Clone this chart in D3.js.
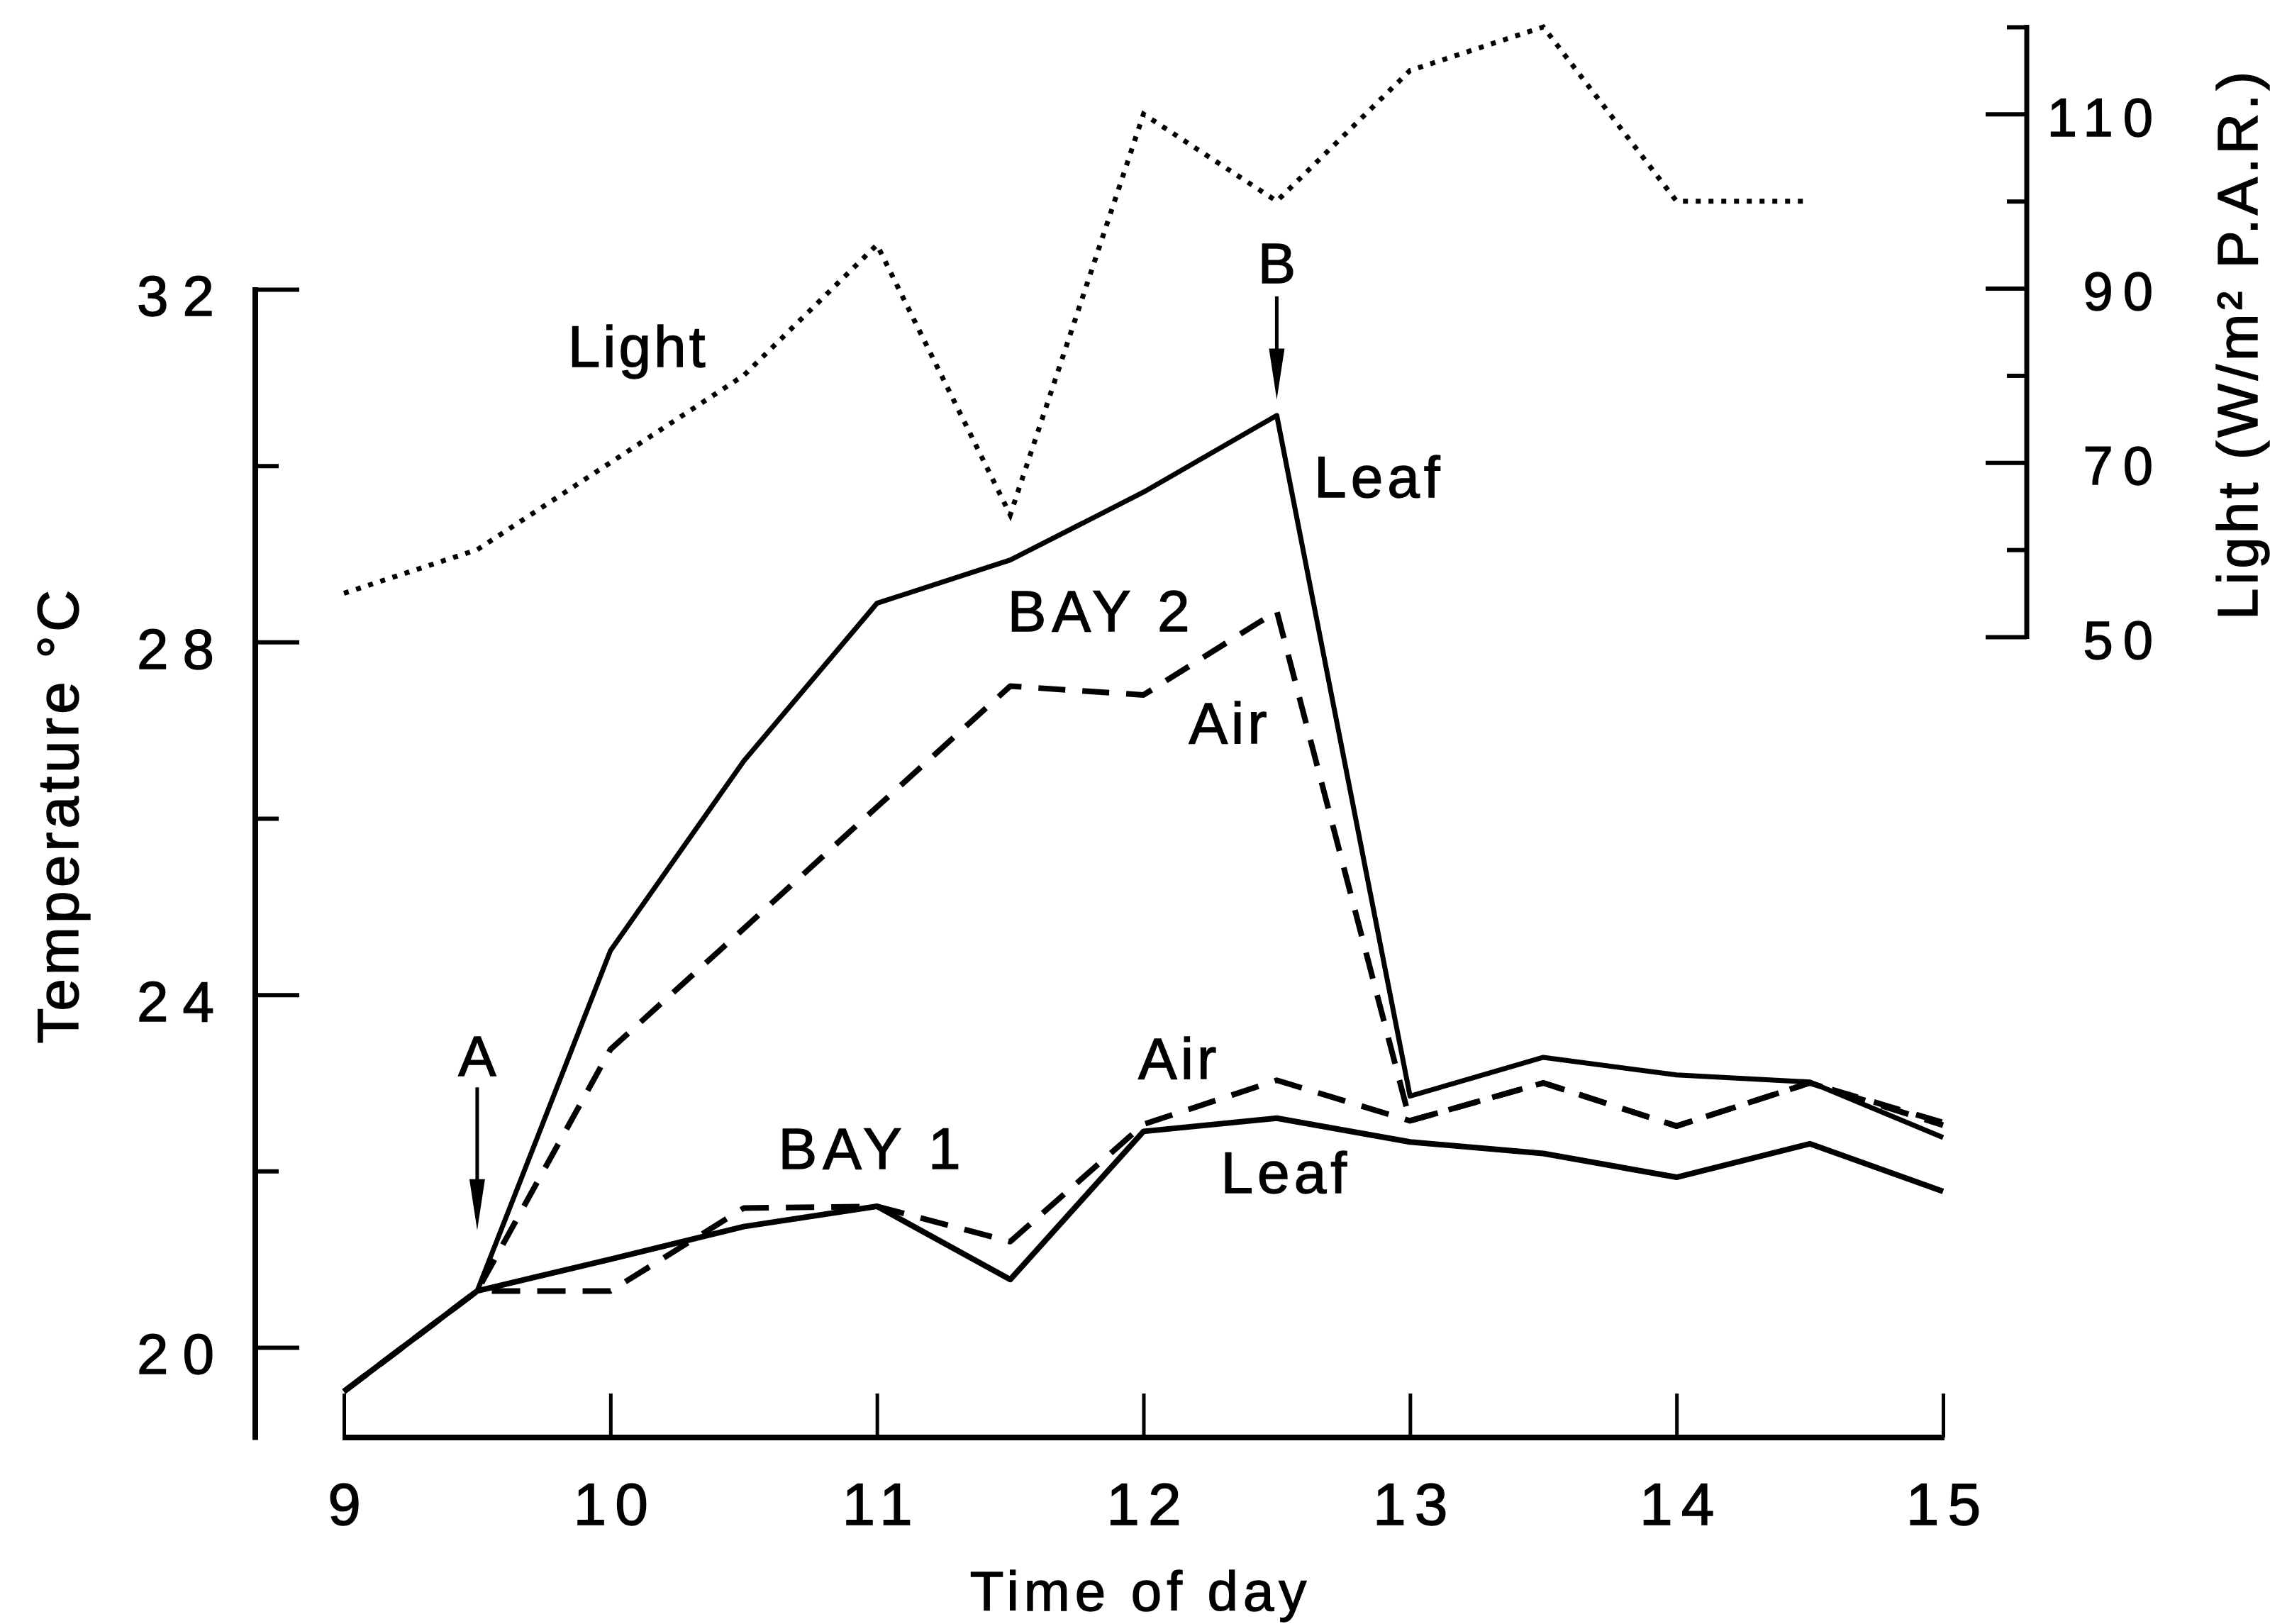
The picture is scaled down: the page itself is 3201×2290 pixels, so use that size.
<!DOCTYPE html>
<html>
<head>
<meta charset="utf-8">
<script src="https://cdn.jsdelivr.net/npm/d3@7"></script>
<style>
  html, body { margin: 0; padding: 0; background: #fff; }
  svg { display: block; }
  text { font-family: "Liberation Sans", Arimo, Helvetica, Arial, sans-serif; fill: #000; stroke: #000; stroke-width: 1.4px; }
</style>
</head>
<body>
<svg id="chart"></svg>
<script>
// ---------------- data ----------------
const hours     = [9, 9.5, 10, 10.5, 11, 11.5, 12, 12.5, 13, 13.5, 14, 14.5, 15];
const bay2Leaf  = [19.5, 20.64, 24.5, 26.65, 28.44, 28.93, 29.7, 30.57, 22.85, 23.29, 23.09, 23.01, 22.38];
const bay2Air   = [19.5, 20.64, 23.38, 24.75, 26.13, 27.5, 27.4, 28.35, 22.57, 23.0, 22.51, 23.0, 22.55];
const bay1Leaf  = [19.5, 20.64, 21.0, 21.37, 21.6, 20.77, 22.45, 22.6, 22.33, 22.2, 21.93, 22.31, 21.77];
const bay1Air   = [19.5, 20.64, 20.64, 21.58, 21.6, 21.2, 22.53, 23.03, 22.57, 23.0, 22.51, 23.0, 22.52];
const lightHours = [9, 9.5, 10, 10.5, 11, 11.5, 12, 12.5, 13, 13.5, 14, 14.5];
const light      = [55, 60, 70, 80, 95, 64, 110, 100, 115, 120, 100, 100];

const xTicks        = [9, 10, 11, 12, 13, 14, 15];
const tempMajor     = [20, 24, 28, 32];
const tempMinor     = [22, 26, 30];
const lightMajor    = [50, 70, 90, 110];
const lightMinor    = [60, 80, 100, 120];

const xTitle = "Time of day";
const yTitle = "Temperature °C";
const y2Title = "Light (W/m² P.A.R.)";

// annotations in data units: hour, temperature (baseline), text
const labels = [
  {h: 9.84,  t: 31.12, text: "Light", ls: 4},
  {h: 12.64, t: 29.64, text: "Leaf",  ls: 6},
  {h: 11.49, t: 28.12, text: "BAY 2", ls: 8},
  {h: 12.17, t: 26.85, text: "Air",   ls: 5},
  {h: 10.63, t: 22.03, text: "BAY 1", ls: 8},
  {h: 11.98, t: 23.05, text: "Air",   ls: 5},
  {h: 12.29, t: 21.75, text: "Leaf",  ls: 6}
];
const arrows = [
  {h: 9.5,  label: "A", labelT: 23.08, from: 22.95, to: 21.33},
  {h: 12.5, label: "B", labelT: 32.07, from: 31.92, to: 30.75}
];

// ---------------- layout ----------------
const W = 3201, H = 2290;
const FONT = "Liberation Sans, Arimo, Helvetica, Arial, sans-serif";
const svg = d3.select("#chart").attr("width", W).attr("height", H);

const x  = d3.scaleLinear().domain([9, 15]).range([485, 2740]);
const yT = d3.scaleLinear().domain([20, 32]).range([1900, 408]);
const yL = d3.scaleLinear().domain([50, 120]).range([898, 38]);

const leftAxisX = 360;
const bottomAxisY = 2027;
const rightAxisX = 2858;

// ---------------- left axis ----------------
const gL = svg.append("g").attr("transform", `translate(${leftAxisX},0)`);
gL.call(d3.axisLeft(yT).tickValues(tempMajor).tickSizeInner(-62).tickSizeOuter(0).tickPadding(58));
gL.attr("font-size", 80).attr("font-family", FONT);
gL.select(".domain").remove();
gL.selectAll(".tick line").attr("stroke", "#000").attr("stroke-width", 6);
gL.selectAll(".tick text").attr("dy", "0.46em").attr("letter-spacing", 20).attr("dx", 20);

const gL2 = svg.append("g").attr("transform", `translate(${leftAxisX},0)`);
gL2.call(d3.axisLeft(yT).tickValues(tempMinor).tickSizeInner(-33).tickSizeOuter(0).tickFormat(() => ""));
gL2.select(".domain").remove();
gL2.selectAll(".tick line").attr("stroke", "#000").attr("stroke-width", 6);

svg.append("path")
  .attr("d", d3.line()([[leftAxisX, yT(32) - 3], [leftAxisX, yT(18.95)]]))
  .attr("stroke", "#000").attr("stroke-width", 8).attr("fill", "none");

svg.append("text")
  .attr("transform", `translate(110, ${(yT(32) + yT(18.95)) / 2 - 70}) rotate(-90)`)
  .attr("text-anchor", "middle")
  .attr("font-size", 82)
  .attr("letter-spacing", 5)
  .text(yTitle);

// ---------------- bottom axis ----------------
const gB = svg.append("g").attr("transform", `translate(0,${bottomAxisY})`);
gB.call(d3.axisBottom(x).tickValues(xTicks).tickSizeInner(-62).tickSizeOuter(0).tickPadding(63).tickFormat(d3.format("d")));
gB.attr("font-size", 84).attr("font-family", FONT);
gB.select(".domain").remove();
gB.selectAll(".tick line").attr("stroke", "#000").attr("stroke-width", 5);
gB.selectAll(".tick text").attr("letter-spacing", 12).attr("dx", 6);

svg.append("path")
  .attr("d", d3.line()([[x(9) - 2, bottomAxisY], [x(15) + 2, bottomAxisY]]))
  .attr("stroke", "#000").attr("stroke-width", 8).attr("fill", "none");

svg.append("text")
  .attr("x", (x(9) + x(15)) / 2 - 4)
  .attr("y", 2271)
  .attr("text-anchor", "middle")
  .attr("font-size", 78)
  .attr("letter-spacing", 7)
  .text(xTitle);

// ---------------- right axis ----------------
const gR = svg.append("g").attr("transform", `translate(${rightAxisX},0)`);
gR.call(d3.axisRight(yL).tickValues(lightMajor).tickSizeInner(-58).tickSizeOuter(0));
gR.attr("font-size", 76).attr("font-family", FONT);
gR.select(".domain").remove();
gR.selectAll(".tick line").attr("stroke", "#000").attr("stroke-width", 6);
gR.selectAll(".tick text").attr("text-anchor", "end").attr("x", 192).attr("dy", "0.4em").attr("letter-spacing", 14);

const gR2 = svg.append("g").attr("transform", `translate(${rightAxisX},0)`);
gR2.call(d3.axisRight(yL).tickValues(lightMinor).tickSizeInner(-28).tickSizeOuter(0).tickFormat(() => ""));
gR2.select(".domain").remove();
gR2.selectAll(".tick line").attr("stroke", "#000").attr("stroke-width", 6);

svg.append("path")
  .attr("d", d3.line()([[rightAxisX, yL(120) - 3], [rightAxisX, yL(50) + 3]]))
  .attr("stroke", "#000").attr("stroke-width", 7).attr("fill", "none");

svg.append("text")
  .attr("transform", `translate(3183, ${(yL(120) + yL(50)) / 2 + 17}) rotate(-90)`)
  .attr("text-anchor", "middle")
  .attr("font-size", 80)
  .attr("letter-spacing", 5)
  .text(y2Title);

// ---------------- series ----------------
const lineT = d3.line().x((d, i) => x(hours[i])).y(d => yT(d));
const lineL = d3.line().x((d, i) => x(lightHours[i])).y(d => yL(d));

svg.append("path").attr("d", lineL(light))
  .attr("fill", "none").attr("stroke", "#000").attr("stroke-width", 7)
  .attr("stroke-dasharray", "7,11");

function drawSeries(vals, dash, width) {
  svg.append("path").attr("d", lineT(vals))
    .attr("fill", "none").attr("stroke", "#000").attr("stroke-width", width)
    .attr("stroke-linejoin", "round")
    .attr("stroke-dasharray", dash);
}
drawSeries(bay1Air, "40,24", 8);
drawSeries(bay2Air, "38,24", 8);
drawSeries(bay1Leaf, null, 8);
drawSeries(bay2Leaf, null, 7);

// ---------------- annotations ----------------
labels.forEach(l => {
  svg.append("text")
    .attr("x", x(l.h)).attr("y", yT(l.t))
    .attr("font-size", 82)
    .attr("letter-spacing", l.ls)
    .text(l.text);
});

arrows.forEach(a => {
  const ax = x(a.h);
  svg.append("text")
    .attr("x", ax).attr("y", yT(a.labelT))
    .attr("text-anchor", "middle")
    .attr("font-size", 80)
    .text(a.label);
  const tip = yT(a.to);
  svg.append("path")
    .attr("d", d3.line()([[ax, yT(a.from)], [ax, tip - 40]]))
    .attr("stroke", "#000").attr("stroke-width", 5).attr("fill", "none");
  svg.append("path")
    .attr("d", d3.line()([[ax - 11, tip - 72], [ax + 11, tip - 72], [ax, tip]]) + "Z")
    .attr("fill", "#000");
});
</script>
</body>
</html>
